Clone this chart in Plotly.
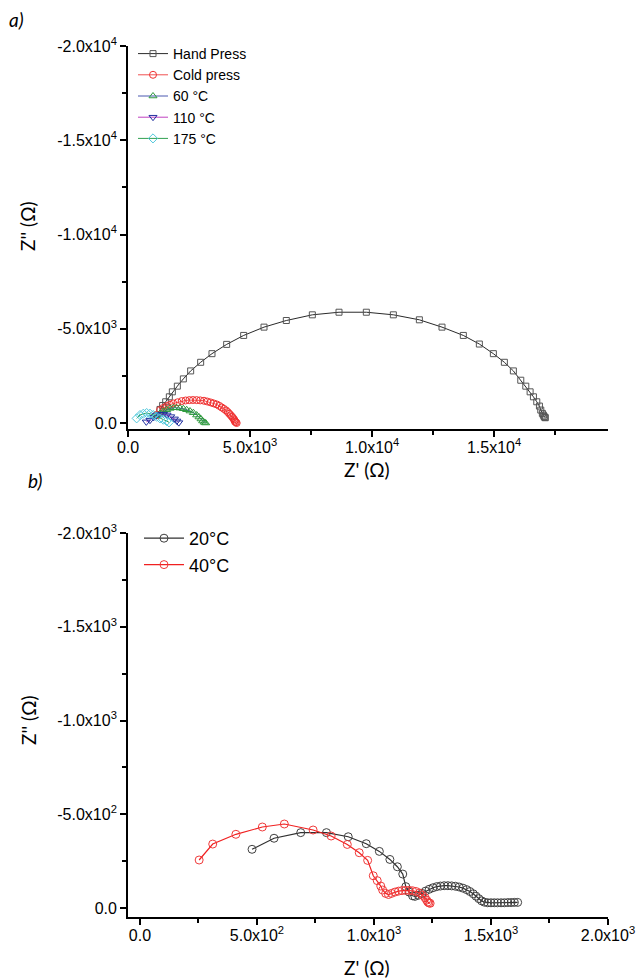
import plotly.graph_objects as go

# ---------------- Panel a data ----------------
hand_x = [1176, 1311, 1420, 1544, 1694, 1817, 2022, 2268, 2568, 2978, 3442, 4043, 4740, 5573, 6488, 7554,
          8647, 9767, 10874, 11940, 12868, 13742, 14398, 14972, 15423, 15792, 16096, 16301, 16478, 16614,
          16751, 16860, 16915, 16980, 17020, 17050, 17080, 17100]
hand_y = [-422, -720, -930, -1126, -1390, -1654, -1954, -2340, -2763, -3221, -3678, -4171, -4646, -5086, -5438, -5739,
          -5877, -5877, -5739, -5475, -5086, -4646, -4189, -3678, -3221, -2763, -2270, -1954, -1654, -1390,
          -1126, -898, -686, -510, -420, -350, -300, -280]

cold_x = [1200, 1311, 1450, 1585, 1720, 1858, 2030, 2199, 2360, 2513, 2660, 2814, 2960, 3115, 3250, 3388,
          3510, 3634, 3740, 3839, 3930, 4016, 4090, 4152, 4210, 4262, 4305, 4344, 4370, 4385, 4420, 4453]
cold_y = [-430, -686, -800, -898, -970, -1038, -1100, -1162, -1195, -1214, -1220, -1214, -1200, -1180, -1140, -1091,
          -1040, -986, -910, -827, -750, -669, -580, -493, -410, -334, -260, -194, -130, -70, -40, 0]

t60_x = [1175, 1311, 1448, 1585, 1721, 1858, 1994, 2131, 2268, 2404, 2541, 2677, 2814, 2910, 2992, 3060, 3128, 3183]
t60_y = [-387, -510, -616, -704, -774, -810, -810, -792, -757, -704, -634, -546, -422, -317, -211, -106, -35, 0]

t110_x = [750, 900, 1050, 1150, 1300, 1450, 1600, 1750, 1900, 2000, 2080]
t110_y = [-60, -150, -300, -400, -460, -470, -430, -340, -220, -110, -20]

t175_x = [355, 492, 628, 765, 901, 1038, 1175, 1311, 1448, 1585, 1680]
t175_y = [-246, -422, -493, -528, -493, -422, -334, -246, -176, -106, -35]

# ---------------- Panel b data ----------------
c20_x = [479, 573, 687, 797, 890, 967, 1023, 1068, 1100, 1123, 1136, 1150, 1165, 1175,
         1190, 1205, 1220, 1236, 1252, 1268, 1284, 1300, 1316, 1332, 1348, 1364, 1380, 1396,
         1410, 1424, 1436, 1448, 1460, 1472, 1486, 1500, 1514, 1528, 1543, 1557, 1572, 1586, 1600, 1614]
c20_y = [-313, -372, -402, -402, -380, -343, -302, -259, -220, -181, -114, -85, -65, -62,
         -68, -78, -90, -100, -108, -114, -117, -119, -119, -118, -116, -112, -106, -98,
         -88, -76, -63, -50, -38, -31, -28, -28, -28, -28, -28, -28, -29, -29, -30, -30]

c40_x = [253, 311, 410, 523, 617, 740, 817, 886, 937, 973, 997, 1014, 1029, 1037, 1050, 1062,
         1075, 1090, 1105, 1120, 1135, 1150, 1165, 1180, 1195, 1208, 1218, 1225, 1230, 1235, 1240]
c40_y = [-256, -341, -393, -432, -448, -416, -384, -339, -295, -254, -172, -146, -117, -96, -78, -72,
         -78, -85, -90, -93, -94, -94, -92, -88, -80, -68, -55, -42, -32, -27, -25]

# tick values / labels
a_xticks = [0, 5000, 10000, 15000]
a_xlabels = ["0.0", "5.0x10<sup>3</sup>", "1.0x10<sup>4</sup>", "1.5x10<sup>4</sup>"]
a_xminor = [2500, 7500, 12500, 17500]
a_yticks = [0, -5000, -10000, -15000, -20000]
a_ylabels = ["0.0", "-5.0x10<sup>3</sup>", "-1.0x10<sup>4</sup>", "-1.5x10<sup>4</sup>", "-2.0x10<sup>4</sup>"]
a_yminor = [-2500, -7500, -12500, -17500]

b_xticks = [0, 500, 1000, 1500, 2000]
b_xlabels = ["0.0", "5.0x10<sup>2</sup>", "1.0x10<sup>3</sup>", "1.5x10<sup>3</sup>", "2.0x10<sup>3</sup>"]
b_xminor = [250, 750, 1250, 1750]
b_yticks = [0, -500, -1000, -1500, -2000]
b_ylabels = ["0.0", "-5.0x10<sup>2</sup>", "-1.0x10<sup>3</sup>", "-1.5x10<sup>3</sup>", "-2.0x10<sup>3</sup>"]
b_yminor = [-250, -750, -1250, -1750]

W, H = 636, 980
ML, MR, MT, MB = 128, 28, 46, 63
PW, PH = W - ML - MR, H - MT - MB


def px_x(p):
    return (p - ML) / PW


def px_y(p):
    return 1 - (p - MT) / PH


fig = go.Figure()

# panel a traces
fig.add_trace(go.Scatter(x=hand_x, y=hand_y, name="Hand Press", mode="lines+markers",
                         line=dict(color="#2a2a2a", width=1),
                         marker=dict(symbol="square-open", size=6, color="#555555", line=dict(width=1)),
                         xaxis="x", yaxis="y", legend="legend"))
fig.add_trace(go.Scatter(x=cold_x, y=cold_y, name="Cold press", mode="lines+markers",
                         line=dict(color="#f05050", width=1),
                         marker=dict(symbol="circle-open", size=7, color="#f03030", line=dict(width=1)),
                         xaxis="x", yaxis="y", legend="legend"))
fig.add_trace(go.Scatter(x=t60_x, y=t60_y, name="60 °C", mode="lines+markers",
                         line=dict(color="#4a58b0", width=1),
                         marker=dict(symbol="triangle-up-open", size=7, color="#2e9a3e", line=dict(width=1)),
                         xaxis="x", yaxis="y", legend="legend"))
fig.add_trace(go.Scatter(x=t110_x, y=t110_y, name="110 °C", mode="lines+markers",
                         line=dict(color="#c040c0", width=1),
                         marker=dict(symbol="triangle-down-open", size=7, color="#2030a0", line=dict(width=1)),
                         xaxis="x", yaxis="y", legend="legend"))
fig.add_trace(go.Scatter(x=t175_x, y=t175_y, name="175 °C", mode="lines+markers",
                         line=dict(color="#30a050", width=1),
                         marker=dict(symbol="diamond-open", size=7, color="#50c8dc", line=dict(width=1)),
                         xaxis="x", yaxis="y", legend="legend"))

# panel b traces
fig.add_trace(go.Scatter(x=c20_x, y=c20_y, name="20°C", mode="lines+markers",
                         line=dict(color="#303030", width=1.2),
                         marker=dict(symbol="circle-open", size=8, color="#404040", line=dict(width=1)),
                         xaxis="x2", yaxis="y2", legend="legend2"))
fig.add_trace(go.Scatter(x=c40_x, y=c40_y, name="40°C", mode="lines+markers",
                         line=dict(color="#f02020", width=1.2),
                         marker=dict(symbol="circle-open", size=8, color="#f03a3a", line=dict(width=1)),
                         xaxis="x2", yaxis="y2", legend="legend2"))

axis_common = dict(showline=True, linecolor="black", linewidth=1.8, ticks="outside", ticklen=6,
                   tickwidth=1.5, tickcolor="black", showgrid=False, zeroline=False,
                   tickfont=dict(family="Liberation Sans, Arial", size=16, color="black"),
                   tickmode="array", automargin=False)
minor_common = dict(ticks="outside", ticklen=4, tickwidth=1.5, tickcolor="black", showgrid=False)

ya_dom = [px_y(429), 1.0]
yb_dom = [0.0, px_y(533)]

fig.update_layout(
    width=W, height=H,
    margin=dict(l=ML, r=MR, t=MT, b=MB, autoexpand=False),
    paper_bgcolor="white", plot_bgcolor="white",
    showlegend=True,
    xaxis=dict(axis_common, domain=[0, 1], range=[0, 19670], tickvals=a_xticks, ticktext=a_xlabels,
               ticklabelstandoff=-3,
               minor=dict(minor_common, tickvals=a_xminor), anchor="y"),
    yaxis=dict(axis_common, domain=ya_dom, range=[318, -20000], tickvals=a_yticks, ticktext=a_ylabels,
               minor=dict(minor_common, tickvals=a_yminor), anchor="x"),
    xaxis2=dict(axis_common, domain=[0, 1], range=[-51, 2000], tickvals=b_xticks, ticktext=b_xlabels,
                ticklabelstandoff=-3,
                minor=dict(minor_common, tickvals=b_xminor), anchor="y2"),
    yaxis2=dict(axis_common, domain=yb_dom, range=[48, -2000], tickvals=b_yticks, ticktext=b_ylabels,
                minor=dict(minor_common, tickvals=b_yminor), anchor="x2"),
    legend=dict(x=px_x(133), y=px_y(38), xanchor="left", yanchor="top", bgcolor="rgba(0,0,0,0)",
                font=dict(family="Liberation Sans, Arial", size=14, color="black")),
    legend2=dict(x=px_x(139), y=px_y(520), xanchor="left", yanchor="top", bgcolor="rgba(0,0,0,0)",
                 itemwidth=40,
                 font=dict(family="Liberation Sans, Arial", size=18, color="black")),
)

title_font = dict(family="Lato, Open Sans", size=19, color="black")
annots = [
    dict(text="Z' (Ω)", x=px_x(367), y=px_y(469)),
    dict(text="Z' (Ω)", x=px_x(367), y=px_y(967)),
    dict(text="Z'' (Ω)", x=px_x(28), y=px_y(226), textangle=-90),
    dict(text="Z'' (Ω)", x=px_x(28), y=px_y(720), textangle=-90),
    dict(text="<i>a)</i>", x=px_x(16), y=px_y(19)),
    dict(text="<i>b)</i>", x=px_x(35), y=px_y(480)),
]
for a in annots:
    fig.add_annotation(xref="paper", yref="paper", showarrow=False, xanchor="center", yanchor="middle",
                       font=title_font, **a)

fig.write_html("out.html", config={"displayModeBar": False},
               post_script="document.body.style.margin='0px';document.body.style.padding='0px';")
